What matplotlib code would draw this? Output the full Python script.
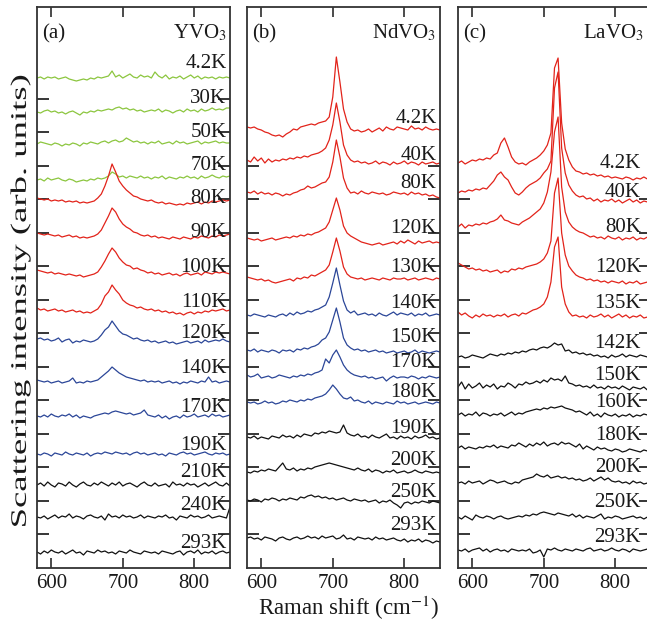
import numpy as np
import matplotlib
matplotlib.use("Agg")
import matplotlib.pyplot as plt
import matplotlib.patheffects as pe
from matplotlib.transforms import Affine2D

plt.rcParams['font.family'] = ['Liberation Serif', 'DejaVu Serif']
plt.rcParams['mathtext.fontset'] = 'stix'

# Raman shift sampling (cm^-1)
shift = np.arange(580, 851, 5)

# ---------------- (a) YVO3 ----------------
temps_a = ["4.2K", "30K", "50K", "70K", "80K", "90K", "100K", "110K",
           "120K", "140K", "170K", "190K", "210K", "240K", "293K"]
phase_a = ["g", "g", "g", "g", "r", "r", "r", "r", "b", "b", "b", "b", "k", "k", "k"]
offset_a = [490, 456, 424, 388, 370, 335, 298, 260, 229, 188, 152, 114, 83, 51, 16]
spec_a = [
    [0,1,-1,1,0,1,-1,0,1,-1,-2, -3,-2,-1,-2,0,-1,1,0,1,2,7, 1,3,0,2,4,1,0,3,1,2,0,
     6,2,0,3,-1,1,0,2,-1,1,3, 0,2,-1,1,0,1,-1,1,0,1,0],
    [0,-1,1,2,0,1,-1,0,-2,0,1, -1,-3,0,-1,1,0,2,1,2,3,2, 4,5,3,4,2,3,1,2,0,1,2,
     1,3,0,2,1,-1,1,2,0,3,1, 2,0,3,1,2,4,2,3,2,4,4],
    [0,2,1,0,-1,1,0,-2,0,-1,1, 0,-2,1,0,2,1,0,2,3,1,3, 4,2,3,6,4,2,3,1,2,0,2,
     1,3,0,1,2,0,3,1,2,0,1, 2,3,0,2,1,2,3,1,2,1,1],
    [0,1,-1,2,0,1,2,0,-1,1,0, -2,-1,0,-1,1,0,2,1,2,4,8, 6,3,4,2,4,3,2,4,2,3,1,
     3,2,4,1,3,2,1,3,2,4,2, 3,1,4,2,3,5,3,2,4,3,4],
    [0,-1,-2,-1,-3,-2,-3,-2,-4,-3,-4, -3,-5,-4,-5,-4,-3,0,4,12,22,34, 26,17,12,8,5,2,1,-1,-2,-3,-2,
     -4,-5,-4,-6,-5,-6,-7,-6,-7,-5,-6, -5,-4,-6,-4,-5,-3,-4,-3,-2,-3,-2],
    [0,-1,-2,-1,-2,-3,-2,-4,-3,-2,-4, -3,-5,-4,-5,-4,-3,-1,3,10,17,25, 21,14,9,6,4,1,0,-2,-3,-2,-4,
     -3,-5,-4,-5,-6,-4,-5,-6,-4,-5,-6, -4,-5,-3,-4,-5,-3,-4,-2,-3,-2,-1],
    [0,-1,-2,-3,-2,-4,-3,-4,-5,-4,-5, -6,-5,-7,-6,-5,-4,-2,3,9,16,22, 18,12,8,5,4,1,2,0,-1,-3,-2,
     -4,-3,-5,-4,-3,-5,-4,-6,-4,-3,-5, -4,-3,-5,-2,-3,-4,-2,-3,-2,-3,-4],
    [0,-2,-1,-3,-2,-1,-3,-2,-4,-3,-2, -4,-3,-5,-4,-5,-3,-1,4,12,16,23, 18,14,8,5,3,2,0,1,-1,-2,-1,
     -3,-2,-4,-3,-5,-4,-6,-5,-7,-5,-4, -6,-4,-5,-3,-4,-2,-3,-2,-1,-3,-2],
    [0,1,-1,0,-2,-1,1,-3,-1,0,-4, -2,-3,-1,-2,-3,-2,0,4,9,12,18, 13,8,5,4,2,0,1,-1,-2,-1,-3,
     -2,-4,-3,-2,-4,-3,-5,-4,-3,-2,-4, -3,-2,-4,-1,-3,-2,-1,-2,0,-2,-3],
    [0,-1,-2,-1,-3,-2,-1,-3,-2,-1,2, -3,-2,-3,-1,-2,-1,0,3,6,9,13, 10,7,5,3,2,1,0,-1,0,-2,-1,
     -2,-1,-3,-2,-1,-3,-2,-4,-2,-3,-1, -2,-3,-1,-2,3,-2,-1,-3,-2,-1,-2],
    [0,-1,1,-1,2,0,-1,1,0,2,-1, 1,-2,0,-1,-2,0,1,2,3,2,4, 5,4,3,2,3,1,2,3,6,1,0,
     -1,1,-2,0,-3,-1,0,-2,1,-1,0, 2,-1,0,1,-1,2,0,1,-1,0,1],
    [0,-1,1,0,-2,1,0,-1,2,0,-1, 1,0,-1,1,-2,0,1,0,2,1,0, 2,1,0,1,-1,1,2,0,1,-1,0,
     1,-1,0,-2,1,0,-1,1,2,0,1, -1,0,1,2,0,-1,1,0,1,-1,0],
    [0,2,-1,3,0,-2,2,1,-1,3,0, -2,1,3,0,-1,2,0,3,1,-1,2, 0,3,-1,1,2,0,-2,1,3,0,-1,
     2,-1,0,1,-2,3,0,1,-1,2,0, 1,-2,0,2,-1,1,3,0,-1,2,-1],
    [0,-1,1,-2,0,2,-1,1,0,3,-1, 1,0,-2,1,2,0,-1,1,-3,3,0, 1,-1,2,0,1,-1,0,2,-1,1,0,
     -1,1,0,2,-1,0,-3,1,0,-1,2, 0,1,-1,0,2,-1,0,1,0,-1,10],
    [0,-2,1,-1,2,0,-1,1,-2,0,2, -1,0,-3,1,0,-1,2,0,1,-1,0, -2,1,0,-1,2,0,-1,-2,1,0,-1,
     0,-2,1,0,-1,-2,0,1,-3,0,1, -1,2,-2,0,-1,1,-2,0,1,-1,0],
]

# ---------------- (b) NdVO3 ----------------
temps_b = ["4.2K", "40K", "80K", "120K", "130K", "140K", "150K", "170K",
           "180K", "190K", "200K", "250K", "293K"]
phase_b = ["r", "r", "r", "r", "r", "b", "b", "b", "b", "k", "k", "k", "k"]
offset_b = [441, 408, 376, 330, 291, 253, 218, 193, 166, 131, 96, 68, 30]
spec_b = [
    [0,-1,0,-2,-3,-5,-6,-8,-9,-8,-10, -7,-5,-2,-3,0,1,2,3,2,4,5, 6,10,30,70,45,18,5,-2,-4,-3,-5,
     -4,-2,-5,-3,-1,-4,0,-2,-3,0,-1, -2,-3,1,-2,-1,-3,0,-2,-3,-2,-3],
    [0,-2,3,-1,2,-3,1,-2,0,-1,1, 0,2,1,3,2,4,3,5,6,7,9, 12,20,35,57,38,15,5,0,-2,-1,-3,
     -2,-4,-3,-1,-4,-2,-3,-5,-2,-4,-3, -1,-4,-2,-3,-5,-2,-4,-3,-2,-4,-3],
    [0,-1,1,-2,0,-2,-1,-3,-1,-2,-4, -2,-3,-1,0,2,3,6,4,5,7,9, 10,15,30,52,35,14,4,-1,0,-2,1,
     -1,-2,0,-1,-2,-1,-3,-2,0,-1,-2, -1,-3,0,-2,-1,-3,-2,-4,-3,-5,-6],
    [0,-1,-2,-1,-3,-2,-1,0,-2,-1,0, 1,0,2,1,3,2,4,3,5,6,8, 10,16,28,40,28,12,5,2,0,-2,-4,
     -5,-6,-7,-6,-5,-7,-6,-5,-4,-6,-3, -5,-2,-4,-6,-3,-5,-4,-3,-5,-4,-5],
    [0,-1,-2,-3,-2,-4,-3,-5,-6,-5,-4, -3,-2,-4,-1,-2,0,-1,2,1,3,5, 7,12,25,39,26,10,3,0,-1,-2,-1,
     -3,-2,-1,-2,-3,-1,-2,-3,-1,-2,-2, -1,-3,-2,-1,-3,-2,-1,-2,-3,-1,-2],
    [0,-1,1,0,-1,-2,0,-1,-2,0,1, -1,2,0,3,1,2,4,3,5,6,8, 10,18,32,47,30,14,5,2,4,0,1,
     2,0,1,-1,2,0,-1,1,3,0,2, 1,0,2,-1,1,0,2,-1,0,1,0],
    [0,-1,1,-2,0,-1,-2,0,-1,-3,0, -1,0,-2,1,0,2,1,3,4,6,10, 12,18,30,42,28,12,5,2,0,1,-1,
     0,-2,-1,0,-2,-1,-3,-2,-1,-3,-2, -1,-3,-2,0,-3,-1,-2,-3,-2,-1,-2],
    [0,-2,-1,1,-3,-2,-1,-3,-2,0,-1, -2,-3,-1,-2,0,-1,1,0,2,3,5, 16,12,20,25,18,10,5,2,0,-1,-2,
     -1,-3,-2,-4,-3,-2,-6,-3,-1,-3,-2, -2,-3,-1,-2,-4,-2,-3,-1,-2,-3,-2],
    [0,-1,0,-2,-1,1,-1,0,-2,-1,1, 0,2,1,0,2,1,3,2,4,5,6, 8,12,17,13,8,4,3,5,1,2,0,
     -1,1,-2,0,-1,-2,0,-1,-2,1,-1, 0,-2,-1,0,-2,-1,0,-1,-2,0,-1],
    [0,-1,1,-2,0,-1,-2,1,0,-1,2, 0,1,-1,2,0,3,2,1,4,3,5, 4,6,5,4,5,12,4,2,1,3,0,
     1,-1,2,0,-1,1,3,-1,0,-2,1, -1,0,-2,1,-1,0,2,-1,0,-2,-1],
    [0,-1,1,0,2,1,3,2,1,5,9, 3,2,4,1,3,2,4,3,5,6,7, 8,9,8,7,6,5,4,3,2,4,2,
     1,3,0,2,1,-1,1,0,2,-1,0, 1,-1,0,2,0,-1,1,0,-1,0,-1],
    [0,-1,1,0,-2,1,0,2,1,-1,1, 0,2,1,0,3,2,4,5,3,4,2, 3,1,2,0,1,2,0,-1,1,0,-1,
     0,-2,-1,0,-3,-1,-2,0,-3,-5,-8, -3,-2,-4,-2,-3,-1,-2,-3,-1,-2,-3],
    [0,1,-1,0,-2,1,0,-1,-3,0,1, -1,-2,0,1,-1,0,2,0,1,-1,2, 0,1,2,-1,0,3,-1,0,-2,1,0,
     -1,0,-2,1,-1,0,-2,-1,0,-2,-3, -1,-4,-2,-3,-1,-4,-2,-3,-5,-3,-4],
]

# ---------------- (c) LaVO3 ----------------
temps_c = ["4.2K", "40K", "80K", "120K", "135K", "142K", "150K", "160K",
           "180K", "200K", "250K", "293K"]
phase_c = ["r", "r", "r", "r", "r", "k", "k", "k", "k", "k", "k", "k"]
offset_c = [405, 375, 341, 305, 256, 211, 181, 153, 120, 85, 51, 18]
spec_c = [
    [0,2,-1,1,3,2,4,3,5,4,8, 10,20,25,16,6,1,-1,0,-2,1,3, 5,8,12,18,30,95,105,40,14,3,-4,
     -8,-9,-11,-10,-12,-11,-13,-12,-14,-13,-15, -14,-15,-16,-14,-15,-17,-15,-16,-14,-16,-17],
    [0,2,1,3,2,4,3,5,4,8,12, 18,21,16,13,6,0,-2,1,5,8,10, 12,15,20,24,32,105,121,45,20,8,2,
     -2,-4,-3,-6,-5,-8,-6,-9,-7,-8,-6, -9,-7,-10,-8,-6,-9,-7,-10,-8,-9,-7],
    [0,3,-1,2,1,3,2,4,3,5,6, 8,12,7,6,4,3,2,5,7,9,12, 15,18,24,35,55,95,110,40,15,5,0,
     -3,-5,-6,-8,-10,-9,-11,-10,-12,-9,-11, -12,-10,-13,-11,-12,-10,-13,-11,-12,-10,-11],
    [0,-2,-4,-6,-5,-7,-6,-8,-7,-9,-8, -7,-10,-8,-9,-6,-7,-5,-6,-4,-3,-2, -1,1,4,10,22,70,85,30,8,-3,-8,
     -12,-14,-15,-17,-16,-18,-17,-19,-18,-20,-18, -19,-20,-18,-21,-19,-20,-18,-21,-20,-19,-20],
    [0,-3,-1,-4,-6,-3,-5,-2,-4,-3,-5, -3,-4,-2,-5,-3,-2,-4,-1,-2,0,2, 3,5,8,15,30,65,75,25,8,0,-4,
     -3,-5,-4,-6,-3,-5,-4,-2,-5,-3,-6, -4,-2,-5,-3,-6,-4,-5,-3,-6,-5,-4],
    [0,1,-1,0,2,1,0,-1,1,3,2, 1,3,2,4,3,5,4,6,5,7,8, 7,9,10,9,11,14,12,13,6,7,4,
     5,3,4,2,3,1,2,0,1,-1,2, 0,1,3,0,2,1,0,2,1,0,1],
    [0,5,-2,3,-1,1,4,-1,2,0,3, -2,1,0,4,2,-1,3,2,5,3,4, 6,4,7,5,9,7,8,6,11,4,3,
     1,2,0,1,-1,2,-1,0,-2,1,-1, 0,-2,1,-1,-3,0,-1,-2,0,-3,-5],
    [0,2,-1,1,0,3,-1,2,1,-1,1, 0,2,-1,1,3,0,2,1,3,4,5, 6,5,7,6,8,7,8,9,7,6,5,
     3,4,2,0,3,-1,1,-2,2,0,-1, 1,-2,0,-1,1,-2,0,-1,1,0,-1],
    [0,2,-1,1,0,-1,1,0,2,1,3, 0,2,1,0,3,2,5,3,1,4,2, 5,3,6,2,4,5,3,6,4,5,3,
     1,4,-1,2,0,-2,1,-1,0,-2,-3, -1,-2,-4,-3,-1,-2,-3,-4,-2,-3,-4],
    [0,1,-1,2,0,1,2,-1,1,3,2, 0,1,2,0,-1,1,0,3,4,5,6, 9,7,6,8,5,6,7,5,6,4,5,
     3,4,2,3,5,2,4,6,3,5,2, 1,2,0,1,-1,2,0,1,-1,0,1],
    [0,-2,1,-1,-3,2,0,-1,1,0,-2, 0,1,-1,-2,-1,0,1,0,2,1,3, 2,4,5,4,3,2,4,3,2,1,3,
     0,2,-1,1,0,-1,1,3,-2,0,-1, 1,0,-2,-1,0,1,-1,0,-2,0,-1],
    [0,-1,1,-2,0,1,2,-1,1,-2,0, 1,-1,0,-2,1,0,-1,0,-1,1,-3, -2,0,-7,1,0,2,0,-1,1,0,-1,
     1,0,-1,1,2,-1,0,1,-1,0,2, 0,-1,1,0,-2,1,0,-1,0,1,-1],
]

titles = ["(a)", "(b)", "(c)"]
compounds = ["YVO$_3$", "NdVO$_3$", "LaVO$_3$"]
xticks = [600, 700, 800]

# ---------------- layout / style ----------------
colors = {"g": "#8cc63f", "r": "#e2231a", "b": "#2b4698", "k": "#111111"}
label_y = [
    [500, 465, 431, 398, 365, 331, 296, 261, 230, 195, 156, 118, 91, 58, 20],
    [445, 408, 380, 335, 296, 260, 226, 201, 171, 135, 103, 71, 38],
    [400, 371, 336, 296, 260, 220, 188, 161, 128, 96, 61, 26],
]
label_x = [845, 845, 836]
comp_x = [845, 845, 840]
yticks_n = [14, 12, 11]


class Stretch(pe.AbstractPathEffect):
    """Stretch text glyphs along their baseline (about their centre)."""
    def __init__(self, sx):
        super().__init__()
        self.sx = sx

    def draw_path(self, renderer, gc, tpath, affine, rgbFace=None):
        ext = tpath.get_extents()
        cx = 0.5 * (ext.x0 + ext.x1)
        pre = Affine2D().translate(-cx, 0).scale(self.sx, 1.0).translate(cx, 0)
        renderer.draw_path(gc, tpath, pre + affine, rgbFace)


W, H = 647, 622
fig = plt.figure(figsize=(W / 100, H / 100), dpi=100)
lefts = [37, 247, 458]
ax_w, ax_top, ax_bot = 193, 7, 568

panels = [
    (temps_a, phase_a, offset_a, spec_a),
    (temps_b, phase_b, offset_b, spec_b),
    (temps_c, phase_c, offset_c, spec_c),
]

for i, (temps, phases, offs, specs) in enumerate(panels):
    ax = fig.add_axes([lefts[i] / W, (H - ax_bot) / H, ax_w / W, (ax_bot - ax_top) / H])
    for t, ph, off, sp in zip(temps, phases, offs, specs):
        ax.plot(shift, off + np.array(sp, dtype=float), color=colors[ph], lw=0.9)
    for t, ly in zip(temps, label_y[i]):
        ax.text(label_x[i], ly, t, ha="right", va="baseline", fontsize=15, color="#1a1a1a")
    ax.text(587, 530, titles[i], ha="left", va="baseline", fontsize=15, color="#1a1a1a")
    ax.text(comp_x[i], 530, compounds[i], ha="right", va="baseline", fontsize=15, color="#1a1a1a")
    ax.set_xlim(580, 850)
    ax.set_ylim(0, 561)
    ax.set_xticks(xticks)
    ax.set_yticks([34 + 33.5 * k for k in range(yticks_n[i])])
    ax.tick_params(axis="x", direction="in", top=True, length=7.5, width=1.1,
                   labelsize=15, pad=4, colors="#1a1a1a")
    ax.tick_params(axis="y", direction="in", right=True, left=True, length=8.5, width=1.1,
                   labelleft=False)
    for s in ax.spines.values():
        s.set_linewidth(1.3)
        s.set_color("#333333")

fig.text(349 / W, 1 - 615 / H, "Raman shift (cm$^{-1}$)", ha="center", va="baseline",
         fontsize=16.5, color="#1a1a1a")
yl = fig.text(21 / W, 1 - 301 / H, "Scattering intensity (arb. units)", ha="center",
              va="center", rotation=90, fontsize=16, color="#1a1a1a")
yl.set_path_effects([Stretch(1.65)])

fig.savefig("out.png", dpi=100)
